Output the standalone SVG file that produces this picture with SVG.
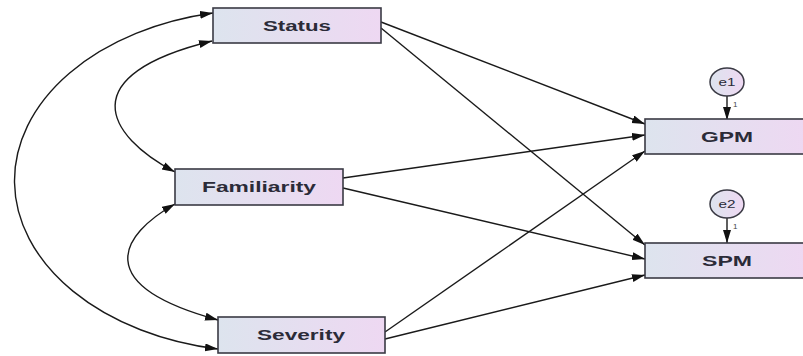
<svg xmlns="http://www.w3.org/2000/svg" width="803" height="356" viewBox="0 0 803 356">
<style>
.box{stroke:#3a3a44;stroke-width:1.6;fill:url(#g)}
.lbl{font-family:"Liberation Sans",Arial,sans-serif;font-weight:bold;font-size:14px;fill:#2b2b38;text-anchor:middle}
.err{stroke:#3a3a44;stroke-width:1.5;fill:url(#g)}
.elbl{font-family:"Liberation Sans",Arial,sans-serif;font-size:11px;fill:#2b2b38;text-anchor:middle}
.one{font-family:"Liberation Sans",Arial,sans-serif;font-size:8px;fill:#444}
.c{fill:none;stroke:#1a1a1a;stroke-width:1.4}
</style>
<defs>
<linearGradient id="g" x1="0" y1="0" x2="1" y2="0">
<stop offset="0" stop-color="#dde4ee"/>
<stop offset="1" stop-color="#eed8f2"/>
</linearGradient>
<marker id="a" markerUnits="userSpaceOnUse" markerWidth="14" markerHeight="10" refX="13" refY="4" orient="auto-start-reverse">
<path d="M0,0 L13,4 L0,8 z" fill="#111"/>
</marker>
</defs>
<rect width="803" height="356" fill="#fff"/>
<g id="connectors">
<path class="c" d="M213,13 A247,171 0 0 0 218,349" marker-start="url(#a)" marker-end="url(#a)"/>
<path class="c" d="M212,41 C73,75 105,135 175,172" marker-start="url(#a)" marker-end="url(#a)"/>
<path class="c" d="M175,204 C120,235 90,285 218,320" marker-start="url(#a)" marker-end="url(#a)"/>
<line class="c" x1="381" y1="22" x2="645" y2="124" marker-end="url(#a)"/>
<line class="c" x1="381" y1="28" x2="645" y2="245" marker-end="url(#a)"/>
<line class="c" x1="343" y1="178" x2="645" y2="135" marker-end="url(#a)"/>
<line class="c" x1="343" y1="188" x2="645" y2="259" marker-end="url(#a)"/>
<line class="c" x1="385" y1="332" x2="645" y2="151" marker-end="url(#a)"/>
<line class="c" x1="385" y1="339" x2="645" y2="275" marker-end="url(#a)"/>
<line class="c" x1="727" y1="96" x2="727" y2="120" marker-end="url(#a)"/>
<line class="c" x1="727" y1="218" x2="727" y2="243" marker-end="url(#a)"/>
</g>
<g id="status">
<rect class="box" x="213" y="8" width="168" height="35"/>
<text class="lbl" x="297" y="31" textLength="68" lengthAdjust="spacingAndGlyphs">Status</text>
</g>
<g id="familiarity">
<rect class="box" x="175" y="169" width="168" height="36"/>
<text class="lbl" x="259" y="192" textLength="114" lengthAdjust="spacingAndGlyphs">Familiarity</text>
</g>
<g id="severity">
<rect class="box" x="218" y="317" width="167" height="36"/>
<text class="lbl" x="301" y="340" textLength="88" lengthAdjust="spacingAndGlyphs">Severity</text>
</g>
<g id="gpm">
<rect class="box" x="645" y="119" width="165" height="35"/>
<text class="lbl" x="727" y="142" textLength="52" lengthAdjust="spacingAndGlyphs">GPM</text>
</g>
<g id="spm">
<rect class="box" x="645" y="243" width="165" height="35"/>
<text class="lbl" x="727" y="266" textLength="50" lengthAdjust="spacingAndGlyphs">SPM</text>
</g>
<g id="e1">
<ellipse class="err" cx="727" cy="82" rx="17" ry="14"/>
<text class="elbl" x="727" y="86" textLength="17" lengthAdjust="spacingAndGlyphs">e1</text>
<text class="one" x="733" y="107">1</text>
</g>
<g id="e2">
<ellipse class="err" cx="727" cy="204" rx="17" ry="14"/>
<text class="elbl" x="727" y="208" textLength="17" lengthAdjust="spacingAndGlyphs">e2</text>
<text class="one" x="733" y="229">1</text>
</g>
</svg>
